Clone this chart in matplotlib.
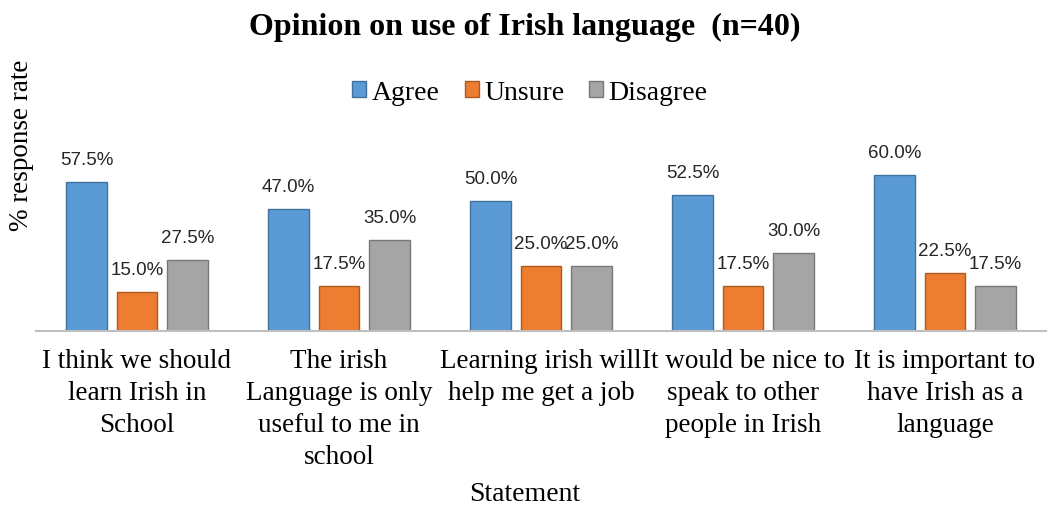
import matplotlib
matplotlib.use("Agg")
import matplotlib.pyplot as plt
import numpy as np

statements = ["I think we should\nlearn Irish in\nSchool",
              "The irish\nLanguage is only\nuseful to me in\nschool",
              "Learning irish will\nhelp me get a job",
              "It would be nice to\nspeak to other\npeople in Irish",
              "It is important to\nhave Irish as a\nlanguage"]
agree = [57.5, 47.0, 50.0, 52.5, 60.0]
unsure = [15.0, 17.5, 25.0, 17.5, 22.5]
disagree = [27.5, 35.0, 25.0, 30.0, 17.5]

series = [("Agree", agree, "#5B9BD5", "#41719C"),
          ("Unsure", unsure, "#ED7D31", "#AE5A21"),
          ("Disagree", disagree, "#A5A5A5", "#787878")]

SERIF = "Liberation Serif"

fig = plt.figure(figsize=(10.49, 5.10), dpi=100)
ax = fig.add_axes([36/1049, 178/510, 1010/1049, 232/510])

x = np.arange(len(statements))
bar_w = 0.2
offsets = [-0.25, 0, 0.25]
for (name, vals, col, edge), off in zip(series, offsets):
    bars = ax.bar(x+off, vals, width=bar_w, color=col, edgecolor=edge, linewidth=1, label=name)
    for b, v in zip(bars, vals):
        ax.annotate("%.1f%%" % v, (b.get_x()+b.get_width()/2, v), xytext=(0, 10),
                    textcoords="offset points", ha="center", va="bottom",
                    fontsize=13.5, family="Liberation Sans", color="#262626")

ax.set_xlim(-0.5, len(statements)-0.5)
ax.set_ylim(0, 232/2.6)
ax.set_yticks([])
ax.set_xticks(x)
ax.set_xticklabels(statements, family=SERIF, fontsize=19.5, linespacing=1.37, va="top")
ax.tick_params(axis="x", length=0, pad=12)
for s in ["top", "right", "left"]:
    ax.spines[s].set_visible(False)
ax.spines["bottom"].set_color("#BFBFBF")
ax.spines["bottom"].set_linewidth(1.5)

fig.text(0.5, 1-27/510, "Opinion on use of Irish language  (n=40)", ha="center", va="center",
         family=SERIF, fontsize=23, fontweight="bold")
fig.text(22/1049, 1-145/510, "% response rate", rotation=90, ha="center", va="center",
         family=SERIF, fontsize=19.5)
fig.text(0.5, 1-495/510, "Statement", ha="center", va="center", family=SERIF, fontsize=20)

fig.legend(loc="center", bbox_to_anchor=(530/1049, 1-93/510), ncol=3, frameon=False,
           prop={"family": SERIF, "size": 20}, handlelength=0.5, handleheight=0.5,
           handletextpad=0.2, columnspacing=0.9)

fig.savefig("out.png", dpi=100)
